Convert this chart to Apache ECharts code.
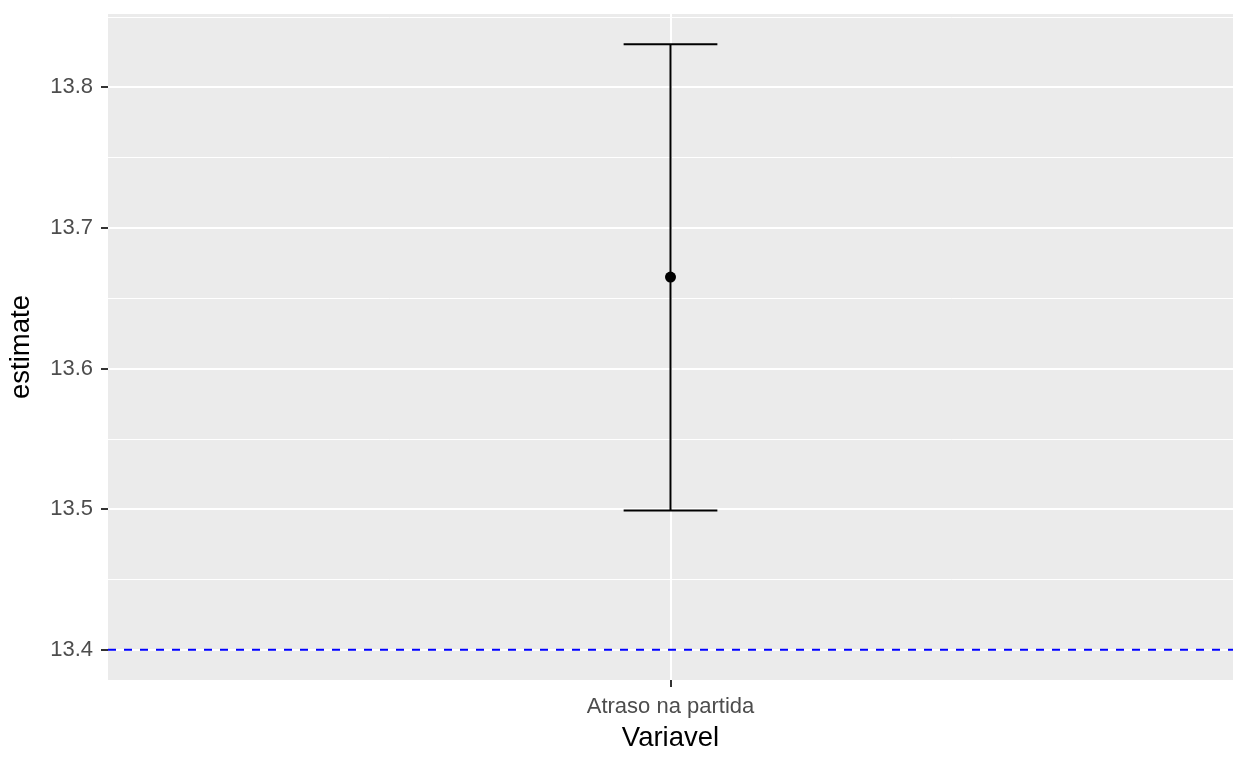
<!DOCTYPE html>
<html>
<head>
<meta charset="utf-8">
<script src="https://cdn.jsdelivr.net/npm/echarts@6/dist/echarts.min.js"></script>
<style>
  html, body { margin: 0; padding: 0; background: #fff; }
  #chart { width: 1248px; height: 768px; }
</style>
</head>
<body>
<div id="chart"></div>
<script>
var categories = ['Atraso na partida'];
var estimates = [13.665];
var lowerCI = [13.499];
var upperCI = [13.8305];
var refLine = 13.4;
var majorTicks = [13.4, 13.5, 13.6, 13.7, 13.8];
var minorTicks = [13.45, 13.55, 13.65, 13.75, 13.85];

var myChart = echarts.init(document.getElementById('chart'));

var xMin = 0.4;
var xMax = categories.length + 0.6;

var gridLines = [];
for (var i = 0; i < minorTicks.length; i++) {
    gridLines.push({ yAxis: minorTicks[i], lineStyle: { color: '#fff', width: 1, type: 'solid' } });
}
for (var i = 0; i < majorTicks.length; i++) {
    gridLines.push({ yAxis: majorTicks[i], lineStyle: { color: '#fff', width: 2, type: 'solid' } });
}
for (var i = 0; i < categories.length; i++) {
    gridLines.push({ xAxis: i + 1, lineStyle: { color: '#fff', width: 2, type: 'solid' } });
}

var barData = [];
var pointData = [];
for (var i = 0; i < categories.length; i++) {
    barData.push([i + 1, lowerCI[i], upperCI[i]]);
    pointData.push([i + 1, estimates[i]]);
}

var option = {
    animation: false,
    grid: {
        left: 108, right: 15, top: 14, bottom: 88,
        outerBoundsMode: 'none',
        containLabel: false,
        show: true, backgroundColor: '#EBEBEB', borderWidth: 0
    },
    xAxis: {
        type: 'value',
        min: xMin,
        max: xMax,
        name: 'Variavel',
        nameLocation: 'middle',
        nameGap: 44,
        nameTextStyle: { color: '#000', fontSize: 27.5, fontFamily: 'Liberation Sans' },
        axisLine: { show: false },
        axisTick: { show: true, length: 7, customValues: [1], lineStyle: { color: '#333', width: 2 } },
        axisLabel: {
            customValues: [1],
            margin: 16,
            color: '#4D4D4D', fontSize: 22, fontFamily: 'Liberation Sans',
            formatter: function (v) { return categories[Math.round(v) - 1] || ''; }
        },
        splitLine: { show: false }
    },
    yAxis: {
        type: 'value',
        min: 13.3785,
        max: 13.852,
        name: 'estimate',
        nameLocation: 'middle',
        nameRotate: 90,
        nameGap: 73,
        nameTextStyle: { color: '#000', fontSize: 27.5, fontFamily: 'Liberation Sans' },
        axisLine: { show: false },
        axisTick: { show: true, length: 7, customValues: majorTicks, lineStyle: { color: '#333', width: 2 } },
        axisLabel: {
            customValues: majorTicks,
            margin: 15,
            color: '#4D4D4D', fontSize: 22, fontFamily: 'Liberation Sans',
            formatter: function (v) { return v.toFixed(1); }
        },
        splitLine: { show: false }
    },
    series: [
        {
            type: 'line',
            data: [],
            silent: true,
            markLine: {
                silent: true, symbol: 'none', label: { show: false },
                z: 1,
                data: gridLines
            }
        },
        {
            // horizontal reference line
            type: 'line',
            z: 3,
            silent: true,
            showSymbol: false,
            data: [[xMin, refLine], [xMax, refLine]],
            lineStyle: { color: '#0000FF', width: 2, type: [8, 8] }
        },
        {
            type: 'custom',
            z: 4,
            data: barData,
            renderItem: function (params, api) {
                var x = api.value(0);
                var lo = api.coord([x, api.value(1)]);
                var hi = api.coord([x, api.value(2)]);
                var half = (api.coord([x + 0.05, 0])[0] - api.coord([x, 0])[0]);
                var st = { stroke: '#000', lineWidth: 2 };
                return {
                    type: 'group',
                    children: [
                        { type: 'line', shape: { x1: lo[0], y1: lo[1], x2: hi[0], y2: hi[1] }, style: st },
                        { type: 'line', shape: { x1: lo[0] - half, y1: lo[1], x2: lo[0] + half, y2: lo[1] }, style: st },
                        { type: 'line', shape: { x1: hi[0] - half, y1: hi[1], x2: hi[0] + half, y2: hi[1] }, style: st }
                    ]
                };
            }
        },
        {
            type: 'scatter',
            z: 5,
            data: pointData,
            symbol: 'circle',
            symbolSize: 11,
            itemStyle: { color: '#000', opacity: 1 }
        }
    ]
};
myChart.setOption(option);
</script>
</body>
</html>
